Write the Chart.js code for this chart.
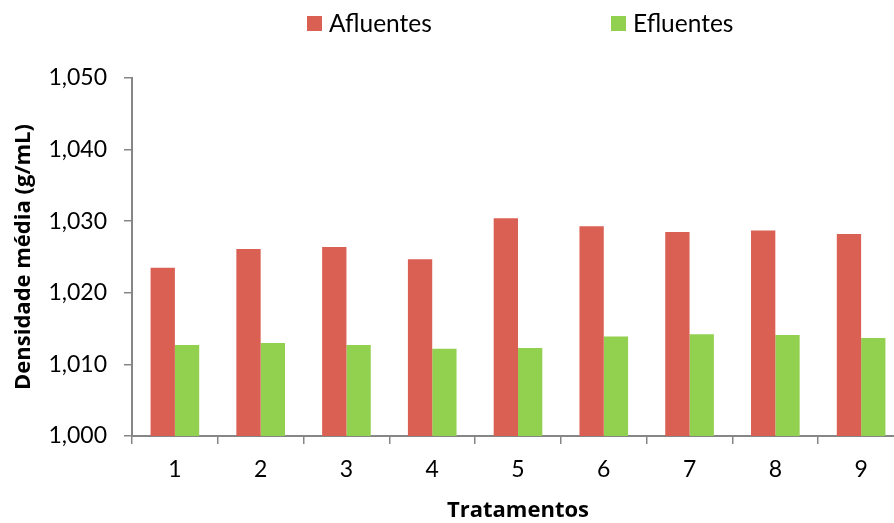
<!DOCTYPE html>
<html>
<head>
<meta charset="utf-8">
<script src="https://cdn.jsdelivr.net/npm/chart.js@4/dist/chart.umd.min.js"></script>
<style>
  html, body { margin: 0; padding: 0; background: #fff; }
  #wrap { position: relative; width: 894px; height: 523px; overflow: hidden; background: #fff; }
  #chart { position: absolute; left: 0; top: 0; }
  #legend { position: absolute; left: 0; top: 0; width: 894px; height: 50px; font-family: Lato, "Open Sans", sans-serif; }
  .item { position: absolute; top: 9px; display: flex; align-items: center; font-size: 24.5px; color: #000; line-height: 28px; }
  .swatch { width: 15px; height: 15px; margin-right: 7px; }
</style>
</head>
<body>
<div id="wrap">
  <canvas id="chart" width="904" height="523"></canvas>
  <div id="legend"></div>
</div>
<script>
// Treatments on the x axis
const categories = ['1', '2', '3', '4', '5', '6', '7', '8', '9'];
// Mean density (g/mL) of inflow and outflow
const afluentes = [1.0235, 1.0261, 1.0264, 1.0247, 1.0304, 1.0293, 1.0285, 1.0287, 1.0282];
const efluentes = [1.0127, 1.0130, 1.0127, 1.0122, 1.0123, 1.0139, 1.0142, 1.0141, 1.0137];
const seriesNames = ['Afluentes', 'Efluentes'];
const seriesColors = ['#DB6054', '#92D050'];
// y tick values
const yTicks = [1.000, 1.010, 1.020, 1.030, 1.040, 1.050];

const axisGray = '#868686';
const font = 'Lato, "Open Sans", sans-serif';
const titleFont = '"Open Sans", Lato, sans-serif';

// HTML legend
const legendPositions = [307, 611];
const legend = document.getElementById('legend');
seriesNames.forEach((name, i) => {
  const item = document.createElement('div');
  item.className = 'item';
  item.style.left = legendPositions[i] + 'px';
  const sw = document.createElement('span');
  sw.className = 'swatch';
  sw.style.background = seriesColors[i];
  const txt = document.createElement('span');
  txt.textContent = name;
  item.appendChild(sw);
  item.appendChild(txt);
  legend.appendChild(item);
});

new Chart(document.getElementById('chart'), {
  type: 'bar',
  data: {
    labels: categories,
    datasets: [
      { label: seriesNames[0], data: afluentes, backgroundColor: seriesColors[0] },
      { label: seriesNames[1], data: efluentes, backgroundColor: seriesColors[1] }
    ]
  },
  options: {
    responsive: false,
    animation: false,
    devicePixelRatio: 1,
    layout: { padding: { top: 78, right: 0, left: 0, bottom: 0 } },
    datasets: { bar: { categoryPercentage: 0.567, barPercentage: 1.0 } },
    plugins: { legend: { display: false }, tooltip: { enabled: false } },
    scales: {
      x: {
        afterFit: s => { s.height = 87; },
        grid: { drawOnChartArea: false, color: axisGray, tickLength: 8, lineWidth: 1.5 },
        border: { display: true, color: axisGray, width: 2 },
        ticks: { color: '#000', font: { family: font, size: 23 }, padding: 12 },
        title: {
          display: true, text: 'Tratamentos', color: '#000',
          font: { family: titleFont, size: 22, weight: 'bold', lineHeight: 1.1 },
          padding: { top: 0, bottom: 0 }
        }
      },
      y: {
        min: 1.0, max: 1.05,
        afterFit: s => { s.width = 132; },
        afterBuildTicks: s => { s.ticks = yTicks.map(v => ({ value: v })); },
        grid: { drawOnChartArea: false, color: axisGray, tickLength: 8, lineWidth: 1.5 },
        border: { display: true, color: axisGray, width: 2 },
        ticks: {
          color: '#000', font: { family: font, size: 23 }, padding: 17,
          callback: v => v.toFixed(3).replace('.', ',')
        },
        title: {
          display: true, text: 'Densidade média (g/mL)', color: '#000',
          font: { family: titleFont, size: 22, weight: 'bold', lineHeight: 1.2 },
          padding: { top: 11, bottom: 0 }
        }
      }
    }
  }
});
</script>
</body>
</html>
